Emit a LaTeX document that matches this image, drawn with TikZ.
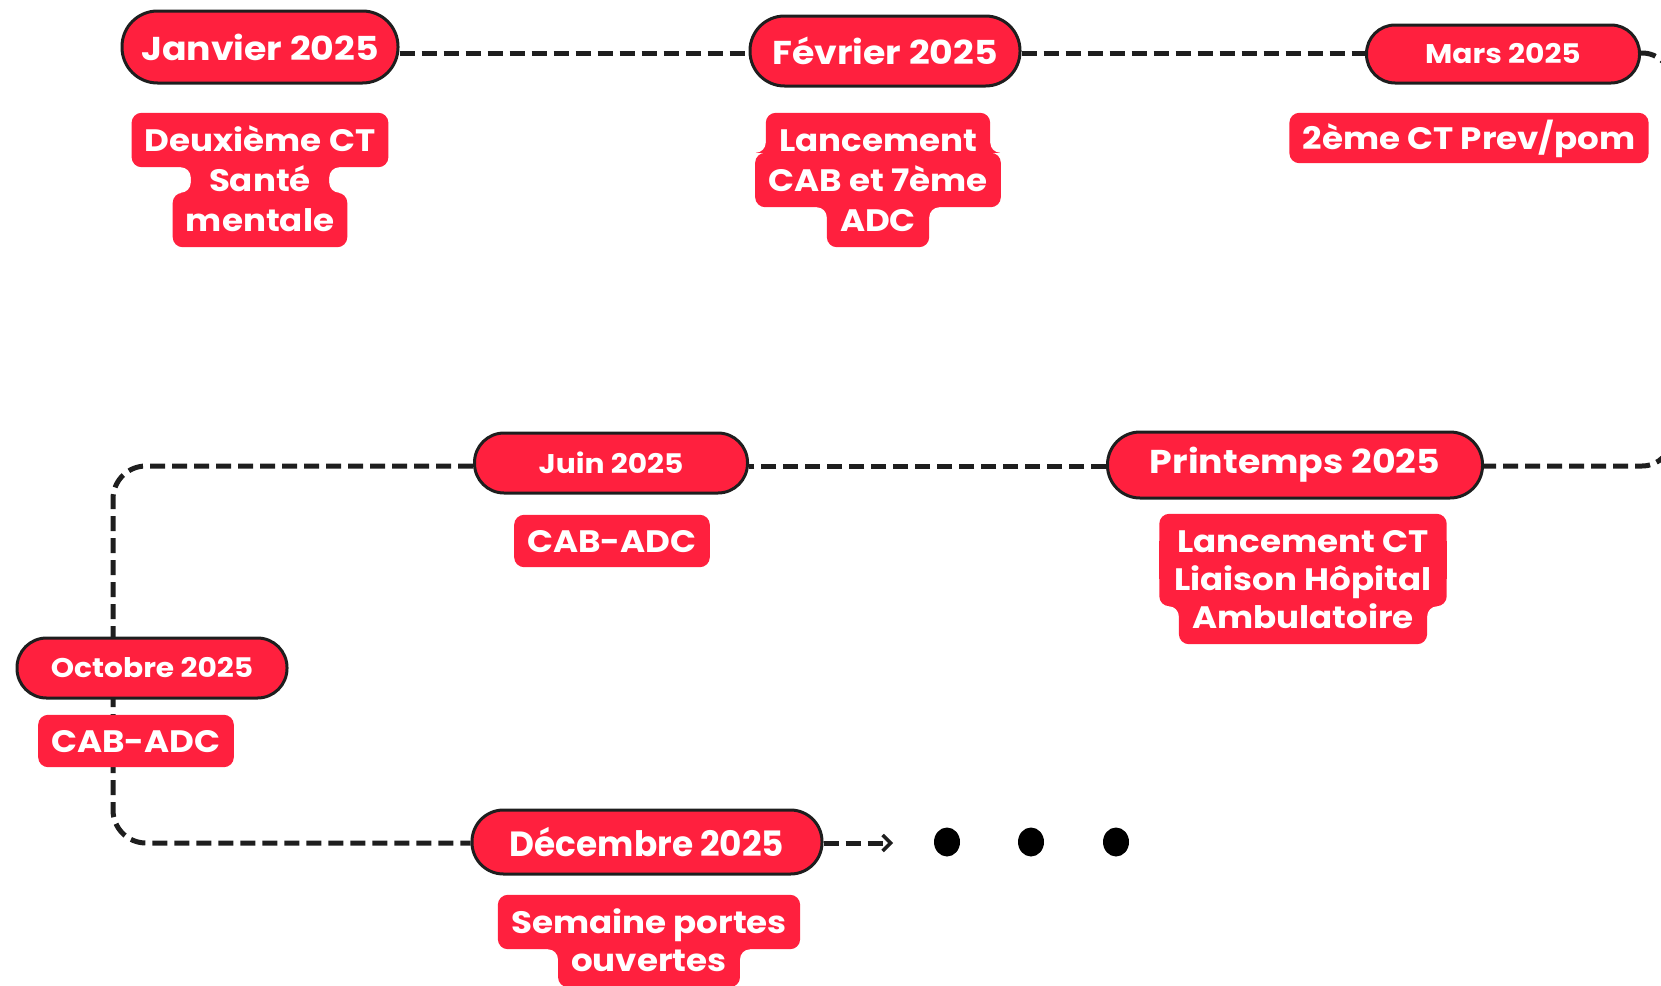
\documentclass[tikz,border=0pt]{standalone}
\usepackage{fontspec}
\setmainfont{Poppins}[FakeStretch=1.1]
\newfontfamily\condfont{Poppins}[FakeStretch=0.98]
\usetikzlibrary{arrows.meta,backgrounds,shapes.geometric}
\pgfdeclarelayer{joins}
\pgfsetlayers{background,joins,main}
\definecolor{tagred}{RGB}{255,32,62}
\definecolor{edgedark}{RGB}{30,30,30}
\newcommand{\bigpf}{\fontsize{33}{38}\selectfont\bfseries}
\newcommand{\smallpf}{\fontsize{27}{30}\selectfont\bfseries}
\newcommand{\descf}{\fontsize{31}{38}\selectfont\bfseries}
\newcommand{\tagbg}[1]{\fill[tagred, rounded corners=10pt] (#1.south west) rectangle (#1.north east);}
\newcommand{\joinrect}[3]{\fill[tagred] (#1.west |- #2.center) rectangle (#1.east |- #3.center);}
\newcommand{\filletbelow}[2]{%
  \fill[tagred] (#1.west |- #2.south) -- ++(0,10) arc[start angle=0,end angle=90,radius=10pt] -- cycle;
  \fill[tagred] (#1.east |- #2.south) -- ++(0,10) arc[start angle=180,end angle=90,radius=10pt] -- cycle;}
\newcommand{\filletabove}[2]{%
  \fill[tagred] (#1.west |- #2.north) -- ++(0,-10) arc[start angle=0,end angle=-90,radius=10pt] -- cycle;
  \fill[tagred] (#1.east |- #2.north) -- ++(0,-10) arc[start angle=180,end angle=270,radius=10pt] -- cycle;}
\tikzset{
  pill/.style={draw=edgedark, line width=3pt, fill=tagred, text=white, inner sep=0pt},
  tagline/.style={text=white, inner xsep=13pt, inner ysep=0pt,
    minimum height=54pt, font=\descf, text height=22pt, text depth=0pt},
  conn/.style={draw=edgedark, line width=5pt, dash pattern=on 15pt off 7pt},
  dotn/.style={fill=black, ellipse, inner sep=0pt, minimum width=26pt, minimum height=29pt}
}
\begin{document}
\begin{tikzpicture}[x=1pt,y=-1pt]
\useasboundingbox (0,0) rectangle (1661,985);
% pills
\node[pill, minimum width=276pt, minimum height=72pt, rounded corners=35.5pt, font=\bigpf] (jan) at (260,47) {Janvier 2025};
\node[pill, minimum width=270pt, minimum height=70pt, rounded corners=34.5pt, font=\bigpf] (feb) at (885,51) {Février 2025};
\node[pill, minimum width=273pt, minimum height=58pt, rounded corners=28.5pt, font=\smallpf] (mars) at (1503,54) {Mars 2025};
\node[pill, minimum width=273pt, minimum height=60pt, rounded corners=29.5pt, font=\smallpf] (juin) at (611,463) {Juin 2025};
\node[pill, minimum width=375pt, minimum height=66pt, rounded corners=32.5pt, font=\bigpf] (prin) at (1295,465) {Printemps 2025};
\node[pill, minimum width=270pt, minimum height=60pt, rounded corners=29.5pt, font=\smallpf] (oct) at (152,668) {Octobre 2025};
\node[pill, minimum width=350pt, minimum height=64pt, rounded corners=31.5pt, font=\condfont\fontsize{35}{40}\selectfont\bfseries] (dec) at (647,842) {Décembre 2025};
% descriptions
\node[tagline] (j1) at (260,140) {Deuxième CT};
\node[tagline, inner xsep=18pt] (j2) at (260,180) {Santé};
\node[tagline] (j3) at (260,220) {mentale};
\node[tagline] (f1) at (878,140) {Lancement};
\node[tagline] (f2) at (878,180) {CAB et 7ème};
\node[tagline] (f3) at (878,220) {ADC};
\node[tagline, minimum height=50pt] (m1) at (1469,138) {2ème CT Prev/pom};
\node[tagline, minimum height=52pt] (ju1) at (612,541) {CAB-ADC};
\node[tagline, minimum width=287pt] (p1) at (1303,541) {Lancement CT};
\node[tagline, minimum width=287pt] (p2) at (1303,579) {Liaison Hôpital};
\node[tagline] (p3) at (1303,617) {Ambulatoire};
\node[tagline, minimum height=52pt] (o1) at (136,741) {CAB-ADC};
\node[tagline] (d1) at (649,922) {Semaine portes};
\node[tagline] (d2) at (649,960) {ouvertes};
\begin{pgfonlayer}{joins}
\tagbg{j1}\tagbg{j2}\tagbg{j3}
\joinrect{j2}{j1}{j2}\joinrect{j2}{j2}{j3}
\filletbelow{j2}{j1}\filletabove{j2}{j3}
\tagbg{f1}\tagbg{f2}\tagbg{f3}
\joinrect{f1}{f1}{f2}\joinrect{f3}{f2}{f3}
\filletabove{f1}{f2}\filletbelow{f3}{f2}
\tagbg{m1}\tagbg{ju1}\tagbg{o1}
\tagbg{p1}\tagbg{p2}\tagbg{p3}
\joinrect{p1}{p1}{p2}\joinrect{p3}{p2}{p3}
\filletbelow{p3}{p2}
\tagbg{d1}\tagbg{d2}
\joinrect{d2}{d1}{d2}
\filletbelow{d2}{d1}
\end{pgfonlayer}
% dots
\node[dotn] (dot1) at (947,842) {};
\node[dotn] (dot2) at (1031,842) {};
\node[dotn] (dot3) at (1116,842) {};
\coordinate (arrend) at (893,843);
\coordinate (rx) at (1672,0);
\coordinate (lx) at (113,0);
\coordinate (row1) at (0,53);
\coordinate (row2) at (0,466);
\coordinate (row3) at (0,843);
% connectors
\begin{pgfonlayer}{background}
\draw[conn] (jan.east |- row1) -- (feb.west |- row1);
\draw[conn] (feb.east |- row1) -- (mars.west |- row1);
\draw[conn, rounded corners=30pt] (mars.east |- row1) -- (rx |- row1) -- (rx |- row2) -- (prin.east |- row2);
\draw[conn] (prin.west |- row2) -- (juin.east |- row2);
\draw[conn, rounded corners=33pt] (juin.west |- row2) -- (lx |- row2) -- (lx |- row3) -- (dec.west |- row3);
\draw[conn, -{Straight Barb[length=8pt,width=16pt,line width=3.5pt]}] (dec.east |- row3) -- (arrend);
\end{pgfonlayer}
\end{tikzpicture}
\end{document}
